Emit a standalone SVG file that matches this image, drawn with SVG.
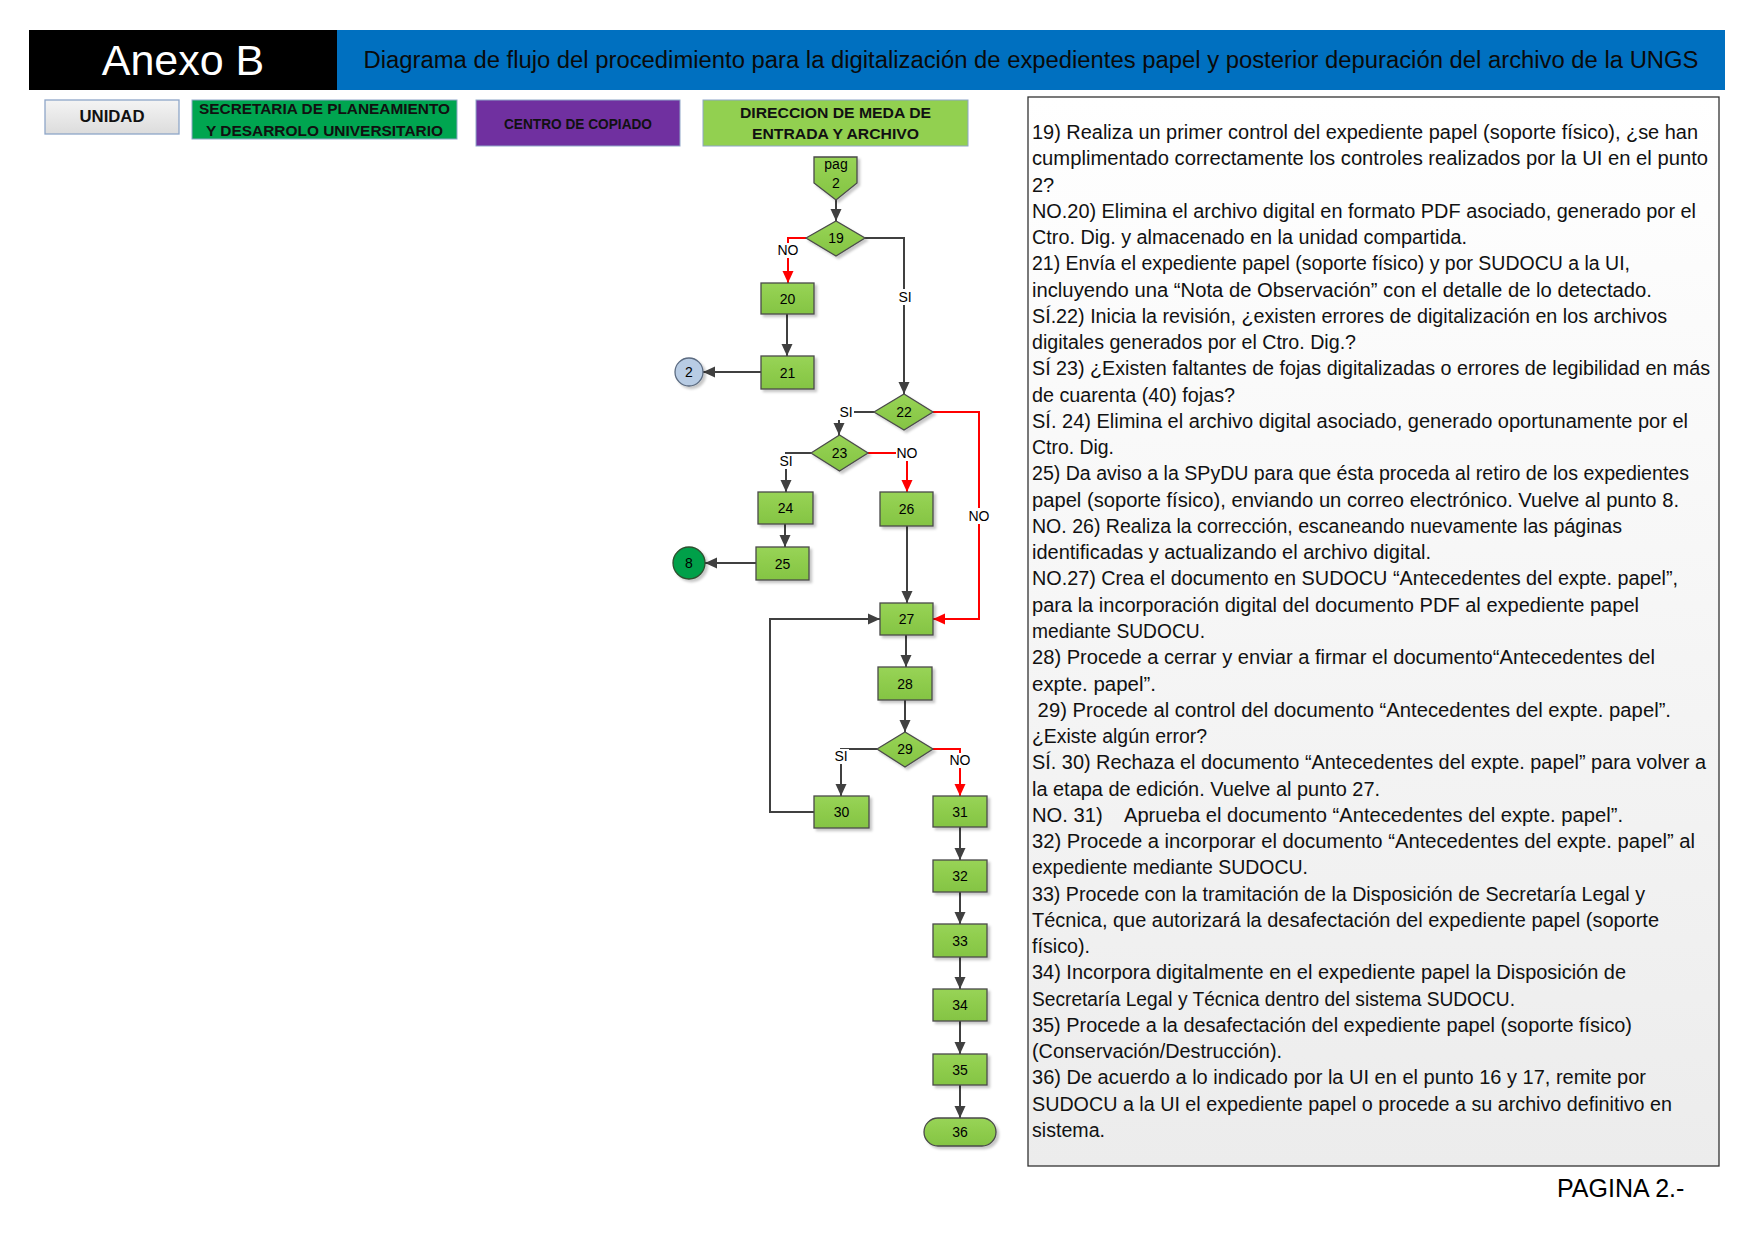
<svg xmlns="http://www.w3.org/2000/svg" width="1757" height="1243" viewBox="0 0 1757 1243">
<style>
.nd{fill:url(#gg);stroke:#4a4a4a;stroke-width:1.3;filter:url(#sh)}
.nt{font-family:"Liberation Sans",Arial,sans-serif;font-size:14px;fill:#000;text-anchor:middle}
.lb{font-family:"Liberation Sans",Arial,sans-serif;font-size:14px;fill:#000;text-anchor:middle}
.lh{font-family:"Liberation Sans",Arial,sans-serif;font-weight:bold;fill:#111;text-anchor:middle}
.tx{font-family:"Liberation Sans",Arial,sans-serif;font-size:20px;fill:#111}
.tx text{white-space:pre}
.cg{fill:none;stroke:#404040;stroke-width:2;marker-end:url(#ah)}
.cr{fill:none;stroke:#ff0000;stroke-width:2;marker-end:url(#ahr)}
.lbg{fill:#fff}
</style>
<defs>
<linearGradient id="gg" x1="0" y1="0" x2="0" y2="1"><stop offset="0" stop-color="#98d456"/><stop offset="1" stop-color="#84c443"/></linearGradient>
<linearGradient id="tb" x1="0" y1="0" x2="0" y2="1"><stop offset="0" stop-color="#ffffff"/><stop offset="1" stop-color="#ececec"/></linearGradient>
<linearGradient id="ug" x1="0" y1="0" x2="0" y2="1"><stop offset="0" stop-color="#f4f4f4"/><stop offset="1" stop-color="#dcdcdc"/></linearGradient>
<filter id="sh" x="-20%" y="-20%" width="150%" height="150%"><feDropShadow dx="2.5" dy="2.5" stdDeviation="1.2" flood-color="#000" flood-opacity="0.22"/></filter>
<marker id="ah" markerWidth="12" markerHeight="12" refX="12" refY="6" orient="auto" markerUnits="userSpaceOnUse"><path d="M0,0.5 L12,6 L0,11.5 z" fill="#404040"/></marker>
<marker id="ahr" markerWidth="12" markerHeight="12" refX="12" refY="6" orient="auto" markerUnits="userSpaceOnUse"><path d="M0,0.5 L12,6 L0,11.5 z" fill="#ff0000"/></marker>
</defs>
<rect width="1757" height="1243" fill="#fff"/>

<g id="header">
<rect x="29" y="30" width="308" height="60" fill="#000"/>
<rect x="337" y="30" width="1388" height="60" fill="#0070c0"/>
<text x="183" y="75" font-family="'Liberation Sans',Arial,sans-serif" font-size="43" fill="#fff" text-anchor="middle">Anexo B</text>
<text x="1031" y="68" font-family="'Liberation Sans',Arial,sans-serif" font-size="23" fill="#0a0a0a" text-anchor="middle" textLength="1335" lengthAdjust="spacingAndGlyphs">Diagrama de flujo del procedimiento para la digitalización de expedientes papel y posterior depuración del archivo de la UNGS</text>
</g>

<g id="lane-unidad">
<rect x="45" y="100" width="134" height="34" fill="url(#ug)" stroke="#8ea6c8" stroke-width="1.3"/>
<text class="lh" x="112" y="122" font-size="16" textLength="65" lengthAdjust="spacingAndGlyphs">UNIDAD</text>
</g>
<g id="lane-spydu">
<rect x="192" y="100" width="265" height="39" fill="#00a550" stroke="#8ea6c8" stroke-width="1"/>
<text class="lh" x="324.5" y="114" font-size="15.5" textLength="251" lengthAdjust="spacingAndGlyphs">SECRETARIA DE PLANEAMIENTO</text>
<text class="lh" x="324.5" y="136" font-size="15.5" textLength="237" lengthAdjust="spacingAndGlyphs">Y DESARROLO UNIVERSITARIO</text>
</g>
<g id="lane-copiado">
<rect x="476" y="100" width="204" height="46" fill="#7030a0" stroke="#8ea6c8" stroke-width="1"/>
<text class="lh" x="578" y="129" font-size="14" textLength="148" lengthAdjust="spacingAndGlyphs">CENTRO DE COPIADO</text>
</g>
<g id="lane-direccion">
<rect x="703" y="100" width="265" height="46" fill="#92d050" stroke="#8ea6c8" stroke-width="1"/>
<text class="lh" x="835.5" y="118" font-size="14.5" textLength="191" lengthAdjust="spacingAndGlyphs">DIRECCION DE MEDA DE</text>
<text class="lh" x="835.5" y="139" font-size="14.5" textLength="167" lengthAdjust="spacingAndGlyphs">ENTRADA Y ARCHIVO</text>
</g>

<g id="connectors">
<path class="cg" d="M836,200 V221"/>
<path class="cr" d="M806,238 H788 V283"/>
<path class="cg" d="M865,238 H904 V394"/>
<path class="cg" d="M787,314 V356"/>
<path class="cg" d="M761,372 H703"/>
<path class="cg" d="M874,412 H839 V435"/>
<path class="cg" d="M811,453 H786 V492"/>
<path class="cr" d="M868,453 H907 V492"/>
<path class="cr" d="M933,412 H979 V619 H933"/>
<path class="cg" d="M785,524 V547"/>
<path class="cg" d="M756,563 H705"/>
<path class="cg" d="M907,526 V603"/>
<path class="cg" d="M906,635 V667"/>
<path class="cg" d="M905,700 V732"/>
<path class="cg" d="M877,749 H841 V796"/>
<path class="cr" d="M933,749 H960 V796"/>
<path class="cg" d="M814,812 H770 V619 H880"/>
<path class="cg" d="M960,827 V860"/>
<path class="cg" d="M960,892 V924"/>
<path class="cg" d="M960,957 V989"/>
<path class="cg" d="M960,1021 V1054"/>
<path class="cg" d="M960,1085 V1118"/>
<rect class="lbg" x="777" y="243" width="22" height="15"/><text class="lb" x="788" y="255">NO</text>
<rect class="lbg" x="897" y="289" width="15" height="16"/><text class="lb" x="905" y="302">SI</text>
<rect class="lbg" x="838" y="405" width="16" height="15"/><text class="lb" x="846" y="417">SI</text>
<rect class="lbg" x="778" y="454" width="16" height="15"/><text class="lb" x="786" y="466">SI</text>
<rect class="lbg" x="896" y="446" width="22" height="15"/><text class="lb" x="907" y="458">NO</text>
<rect class="lbg" x="968" y="508" width="22" height="16"/><text class="lb" x="979" y="521">NO</text>
<rect class="lbg" x="833" y="749" width="16" height="15"/><text class="lb" x="841" y="761">SI</text>
<rect class="lbg" x="949" y="753" width="22" height="15"/><text class="lb" x="960" y="765">NO</text>
</g>

<g id="n-pag"><path class="nd" d="M814,157 H857 V183 L836,200 L814,183 Z"/><text class="nt" x="836" y="169">pag</text><text class="nt" x="836" y="188">2</text></g>
<g id="n19"><path class="nd" d="M806,238 L836,221 L865,238 L836,256 Z"/><text class="nt" x="836" y="243">19</text></g>
<g id="n20"><rect class="nd" x="761" y="283" width="53" height="31"/><text class="nt" x="787.5" y="303.5">20</text></g>
<g id="n21"><rect class="nd" x="761" y="356" width="53" height="33"/><text class="nt" x="787.5" y="377.5">21</text></g>
<g id="c2"><circle cx="689" cy="372" r="14" fill="#b8cce4" stroke="#5b6b80" stroke-width="1.3" filter="url(#sh)"/><text class="nt" x="689" y="377">2</text></g>
<g id="n22"><path class="nd" d="M874,412 L904,394 L933,412 L904,430 Z"/><text class="nt" x="904" y="417">22</text></g>
<g id="n23"><path class="nd" d="M811,453 L839.5,435 L868,453 L839.5,471 Z"/><text class="nt" x="839.5" y="458">23</text></g>
<g id="n24"><rect class="nd" x="758" y="492" width="55" height="32"/><text class="nt" x="785.5" y="513">24</text></g>
<g id="n25"><rect class="nd" x="756" y="547" width="53" height="33"/><text class="nt" x="782.5" y="568.5">25</text></g>
<g id="c8"><circle cx="689" cy="563" r="16" fill="#00a04a" stroke="#2f4f2f" stroke-width="1.3" filter="url(#sh)"/><text class="nt" x="689" y="568">8</text></g>
<g id="n26"><rect class="nd" x="880" y="492" width="53" height="34"/><text class="nt" x="906.5" y="514">26</text></g>
<g id="n27"><rect class="nd" x="880" y="603" width="53" height="32"/><text class="nt" x="906.5" y="624">27</text></g>
<g id="n28"><rect class="nd" x="878" y="667" width="54" height="33"/><text class="nt" x="905" y="688.5">28</text></g>
<g id="n29"><path class="nd" d="M877,749 L905,732 L933,749 L905,767 Z"/><text class="nt" x="905" y="754">29</text></g>
<g id="n30"><rect class="nd" x="814" y="796" width="55" height="32"/><text class="nt" x="841.5" y="817">30</text></g>
<g id="n31"><rect class="nd" x="933" y="796" width="54" height="31"/><text class="nt" x="960" y="816.5">31</text></g>
<g id="n32"><rect class="nd" x="933" y="860" width="54" height="32"/><text class="nt" x="960" y="881">32</text></g>
<g id="n33"><rect class="nd" x="933" y="924" width="54" height="33"/><text class="nt" x="960" y="945.5">33</text></g>
<g id="n34"><rect class="nd" x="933" y="989" width="54" height="32"/><text class="nt" x="960" y="1010">34</text></g>
<g id="n35"><rect class="nd" x="933" y="1054" width="54" height="31"/><text class="nt" x="960" y="1074.5">35</text></g>
<g id="n36"><rect class="nd" x="924" y="1118" width="72" height="28" rx="14" ry="14"/><text class="nt" x="960" y="1137">36</text></g>

<g id="notes">
<rect x="1028" y="97" width="691" height="1069" fill="url(#tb)" stroke="#333" stroke-width="1.3"/>
<g class="tx">
<text x="1032" y="139" textLength="666" lengthAdjust="spacingAndGlyphs">19) Realiza un primer control del expediente papel (soporte físico), ¿se han</text>
<text x="1032" y="165.3" textLength="676" lengthAdjust="spacingAndGlyphs">cumplimentado correctamente los controles realizados por la UI en el punto</text>
<text x="1032" y="191.5">2?</text>
<text x="1032" y="217.8" textLength="664" lengthAdjust="spacingAndGlyphs">NO.20) Elimina el archivo digital en formato PDF asociado, generado por el</text>
<text x="1032" y="244" textLength="435" lengthAdjust="spacingAndGlyphs">Ctro. Dig. y almacenado en la unidad compartida.</text>
<text x="1032" y="270.3" textLength="598" lengthAdjust="spacingAndGlyphs">21) Envía el expediente papel (soporte físico) y por SUDOCU a la UI,</text>
<text x="1032" y="296.6" textLength="620" lengthAdjust="spacingAndGlyphs">incluyendo una “Nota de Observación” con el detalle de lo detectado.</text>
<text x="1032" y="322.8" textLength="635" lengthAdjust="spacingAndGlyphs">SÍ.22) Inicia la revisión, ¿existen errores de digitalización en los archivos</text>
<text x="1032" y="349.1" textLength="324" lengthAdjust="spacingAndGlyphs">digitales generados por el Ctro. Dig.?</text>
<text x="1032" y="375.3" textLength="678" lengthAdjust="spacingAndGlyphs">SÍ 23) ¿Existen faltantes de fojas digitalizadas o errores de legibilidad en más</text>
<text x="1032" y="401.6" textLength="203" lengthAdjust="spacingAndGlyphs">de cuarenta (40) fojas?</text>
<text x="1032" y="427.9" textLength="656" lengthAdjust="spacingAndGlyphs">SÍ. 24) Elimina el archivo digital asociado, generado oportunamente por el</text>
<text x="1032" y="454.1" textLength="82" lengthAdjust="spacingAndGlyphs">Ctro. Dig.</text>
<text x="1032" y="480.4" textLength="657" lengthAdjust="spacingAndGlyphs">25) Da aviso a la SPyDU para que ésta proceda al retiro de los expedientes</text>
<text x="1032" y="506.6" textLength="647" lengthAdjust="spacingAndGlyphs">papel (soporte físico), enviando un correo electrónico. Vuelve al punto 8.</text>
<text x="1032" y="532.9" textLength="590" lengthAdjust="spacingAndGlyphs">NO. 26) Realiza la corrección, escaneando nuevamente las páginas</text>
<text x="1032" y="559.2" textLength="399" lengthAdjust="spacingAndGlyphs">identificadas y actualizando el archivo digital.</text>
<text x="1032" y="585.4" textLength="646" lengthAdjust="spacingAndGlyphs">NO.27) Crea el documento en SUDOCU “Antecedentes del expte. papel”,</text>
<text x="1032" y="611.7" textLength="607" lengthAdjust="spacingAndGlyphs">para la incorporación digital del documento PDF al expediente papel</text>
<text x="1032" y="637.9" textLength="173" lengthAdjust="spacingAndGlyphs">mediante SUDOCU.</text>
<text x="1032" y="664.2" textLength="623" lengthAdjust="spacingAndGlyphs">28) Procede a cerrar y enviar a firmar el documento“Antecedentes del</text>
<text x="1032" y="690.5" textLength="124" lengthAdjust="spacingAndGlyphs">expte. papel”.</text>
<text x="1032" y="716.7" textLength="639" lengthAdjust="spacingAndGlyphs"> 29) Procede al control del documento “Antecedentes del expte. papel”.</text>
<text x="1032" y="743" textLength="175" lengthAdjust="spacingAndGlyphs">¿Existe algún error?</text>
<text x="1032" y="769.2" textLength="674" lengthAdjust="spacingAndGlyphs">SÍ. 30) Rechaza el documento “Antecedentes del expte. papel” para volver a</text>
<text x="1032" y="795.5" textLength="348" lengthAdjust="spacingAndGlyphs">la etapa de edición. Vuelve al punto 27.</text>
<text x="1032" y="821.8" textLength="591" lengthAdjust="spacingAndGlyphs">NO. 31)    Aprueba el documento “Antecedentes del expte. papel”.</text>
<text x="1032" y="848" textLength="663" lengthAdjust="spacingAndGlyphs">32) Procede a incorporar el documento “Antecedentes del expte. papel” al</text>
<text x="1032" y="874.3" textLength="276" lengthAdjust="spacingAndGlyphs">expediente mediante SUDOCU.</text>
<text x="1032" y="900.5" textLength="613" lengthAdjust="spacingAndGlyphs">33) Procede con la tramitación de la Disposición de Secretaría Legal y</text>
<text x="1032" y="926.8" textLength="627" lengthAdjust="spacingAndGlyphs">Técnica, que autorizará la desafectación del expediente papel (soporte</text>
<text x="1032" y="953.1" textLength="58" lengthAdjust="spacingAndGlyphs">físico).</text>
<text x="1032" y="979.3" textLength="594" lengthAdjust="spacingAndGlyphs">34) Incorpora digitalmente en el expediente papel la Disposición de</text>
<text x="1032" y="1005.6" textLength="483" lengthAdjust="spacingAndGlyphs">Secretaría Legal y Técnica dentro del sistema SUDOCU.</text>
<text x="1032" y="1031.8" textLength="600" lengthAdjust="spacingAndGlyphs">35) Procede a la desafectación del expediente papel (soporte físico)</text>
<text x="1032" y="1058.1" textLength="250" lengthAdjust="spacingAndGlyphs">(Conservación/Destrucción).</text>
<text x="1032" y="1084.4" textLength="614" lengthAdjust="spacingAndGlyphs">36) De acuerdo a lo indicado por la UI en el punto 16 y 17, remite por</text>
<text x="1032" y="1110.6" textLength="640" lengthAdjust="spacingAndGlyphs">SUDOCU a la UI el expediente papel o procede a su archivo definitivo en</text>
<text x="1032" y="1136.9" textLength="73" lengthAdjust="spacingAndGlyphs">sistema.</text>
</g>
</g>

<text id="pagina" x="1557" y="1197" font-family="'Liberation Sans',Arial,sans-serif" font-size="25" fill="#000">PAGINA 2.-</text>
</svg>
